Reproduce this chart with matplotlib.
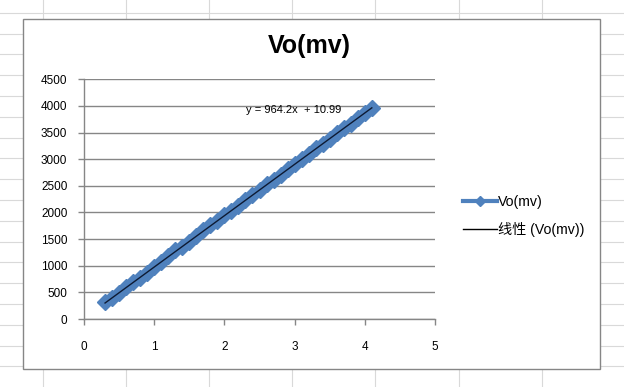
import matplotlib
matplotlib.use("Agg")
import matplotlib.pyplot as plt
from matplotlib.patches import Rectangle
from matplotlib.lines import Line2D

plt.rcParams['font.family'] = ['Liberation Sans', 'Noto Sans CJK SC', 'DejaVu Sans']

# Data
x_vals = [0.3, 0.4, 0.5, 0.6, 0.7, 0.8, 0.9, 1.0, 1.1, 1.2, 1.3, 1.4, 1.5,
          1.6, 1.7, 1.8, 1.9, 2.0, 2.1, 2.2, 2.3, 2.4, 2.5, 2.6, 2.7, 2.8,
          2.9, 3.0, 3.1, 3.2, 3.3, 3.4, 3.5, 3.6, 3.7, 3.8, 3.9, 4.0, 4.1]
y_vals = [310, 392, 488, 598, 690, 776, 872, 985, 1068, 1180, 1290, 1352, 1450,
          1560, 1662, 1760, 1838, 1950, 2030, 2128, 2240, 2335, 2425, 2530, 2612, 2705,
          2820, 2910, 2995, 3100, 3205, 3280, 3380, 3490, 3585, 3668, 3778, 3860, 3968]
slope = 964.2
intercept = 10.99
x_ticks = [0, 1, 2, 3, 4, 5]
y_ticks = [0, 500, 1000, 1500, 2000, 2500, 3000, 3500, 4000, 4500]
title = "Vo(mv)"
series_label = "Vo(mv)"
trend_label = "线性 (Vo(mv))"
equation = "y = 964.2x  + 10.99"

W, H = 624, 387
fig = plt.figure(figsize=(W / 100, H / 100), dpi=100)

# Spreadsheet background grid
bg = fig.add_axes([0, 0, 1, 1])
bg.set_xlim(0, W)
bg.set_ylim(H, 0)
bg.axis('off')
gx = 42.6
while gx < W:
    bg.plot([gx, gx], [0, H], color='#d9d9d9', lw=0.8)
    gx += 83.2
gy = 12.7
while gy < H:
    bg.plot([0, W], [gy, gy], color='#d9d9d9', lw=0.8)
    gy += 20.8
bg.add_patch(Rectangle((22.5, 18.5), 577.5, 350.5, facecolor='white',
                       edgecolor='#868686', lw=1.0, zorder=5))
bg.text(309, 46, title, ha='center', va='center', fontsize=18,
        fontweight='bold', zorder=6)

# Plot area
left, right, top, bottom = 84, 435, 79.3, 319
ax = fig.add_axes([left / W, 1 - bottom / H, (right - left) / W, (bottom - top) / H])
ax.set_zorder(10)
ax.patch.set_alpha(0)
ax.set_xlim(0, 5)
ax.set_ylim(0, 4500)
ax.set_xticks(x_ticks)
ax.set_yticks(y_ticks)
ax.grid(axis='y', color='#868686', lw=1.0)
ax.set_axisbelow(True)
for s in ['top', 'right']:
    ax.spines[s].set_visible(False)
for s in ['left', 'bottom']:
    ax.spines[s].set_color('#868686')
    ax.spines[s].set_linewidth(1.0)
ax.tick_params(axis='both', colors='#868686', labelcolor='black', labelsize=8.5,
               length=4, width=1.0)
ax.tick_params(axis='x', pad=12)
ax.tick_params(axis='y', pad=8)

ax.plot(x_vals, y_vals, color='#4f81bd', lw=3.5, marker='D', markersize=8,
        markerfacecolor='#4f81bd', markeredgecolor='#4f81bd', zorder=3)
tx = [x_vals[0], x_vals[-1]]
ty = [slope * v + intercept for v in tx]
ax.plot(tx, ty, color='#0d1a33', lw=1.0, zorder=4)
ax.text(2.31, 3919, equation, fontsize=8, va='center', ha='left', zorder=5)

handles = [Line2D([], [], color='#4f81bd', lw=3, marker='D', markersize=5),
           Line2D([], [], color='black', lw=1.0)]
fig.legend(handles, [series_label, trend_label], loc='center left',
           bbox_to_anchor=(450 / W, 1 - 216 / H), frameon=False, fontsize=10.2,
           handlelength=2.4, handletextpad=0.1, labelspacing=0.95)

fig.savefig('out.png', dpi=100)
